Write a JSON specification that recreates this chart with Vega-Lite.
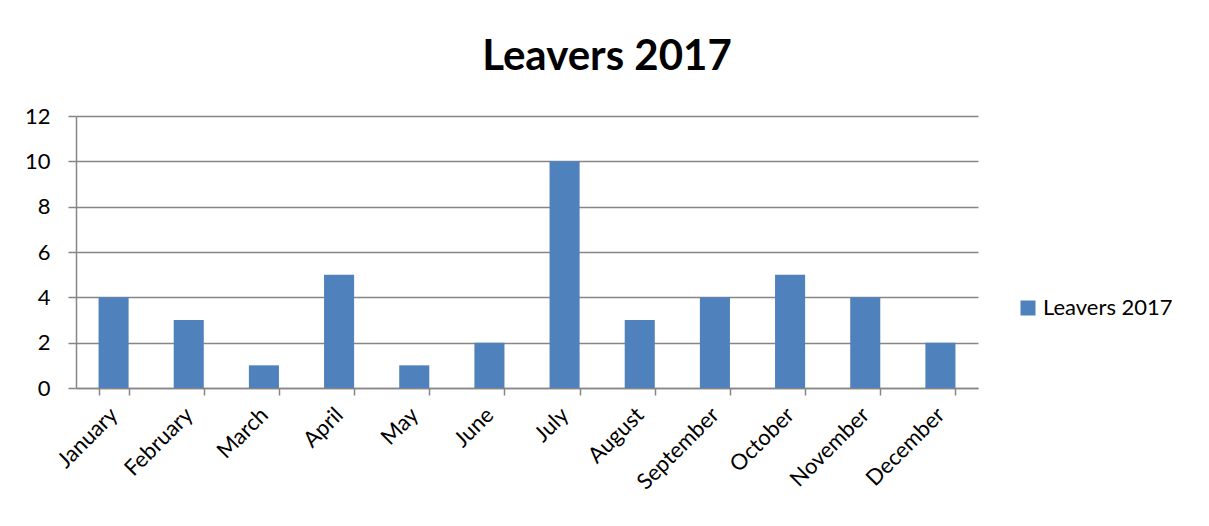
{
  "$schema": "https://vega.github.io/schema/vega-lite/v6.json",
  "width": 902,
  "height": 272,
  "autosize": {"type": "none"},
  "padding": {"left": 76, "top": 116, "right": 231, "bottom": 138},
  "background": "white",
  "title": {
    "text": "Leavers 2017",
    "font": "Lato",
    "fontSize": 42,
    "fontWeight": "bold",
    "color": "#000000",
    "anchor": "middle",
    "dx": 80,
    "offset": 26
  },
  "data": {
    "values": [
      {"month": "January", "leavers": 4, "series": "Leavers 2017"},
      {"month": "February", "leavers": 3, "series": "Leavers 2017"},
      {"month": "March", "leavers": 1, "series": "Leavers 2017"},
      {"month": "April", "leavers": 5, "series": "Leavers 2017"},
      {"month": "May", "leavers": 1, "series": "Leavers 2017"},
      {"month": "June", "leavers": 2, "series": "Leavers 2017"},
      {"month": "July", "leavers": 10, "series": "Leavers 2017"},
      {"month": "August", "leavers": 3, "series": "Leavers 2017"},
      {"month": "September", "leavers": 4, "series": "Leavers 2017"},
      {"month": "October", "leavers": 5, "series": "Leavers 2017"},
      {"month": "November", "leavers": 4, "series": "Leavers 2017"},
      {"month": "December", "leavers": 2, "series": "Leavers 2017"}
    ]
  },
  "mark": {"type": "bar", "color": "#4F81BD"},
  "encoding": {
    "x": {
      "field": "month",
      "type": "nominal",
      "sort": null,
      "scale": {"paddingInner": 0.6, "paddingOuter": 0.3},
      "axis": {
        "title": null,
        "labelAngle": -45,
        "labelAlign": "right",
        "labelBaseline": "middle",
        "labelFont": "Lato",
        "labelFontSize": 22,
        "labelColor": "#000000",
        "labelPadding": 16,
        "tickBand": "extent",
        "tickSize": 7,
        "tickColor": "#868686",
        "domainColor": "#868686",
        "domainWidth": 1.5,
        "tickWidth": 1.5,
        "grid": false
      }
    },
    "y": {
      "field": "leavers",
      "type": "quantitative",
      "scale": {"domain": [0, 12]},
      "axis": {
        "title": null,
        "values": [0, 2, 4, 6, 8, 10, 12],
        "labelFont": "Lato",
        "labelFontSize": 22,
        "labelColor": "#000000",
        "labelPadding": 18,
        "tickSize": 8,
        "tickColor": "#868686",
        "domainColor": "#868686",
        "domainWidth": 1.5,
        "tickWidth": 1.5,
        "gridColor": "#868686",
        "gridWidth": 1.5,
        "gridOpacity": 1
      }
    },
    "fill": {
      "field": "series",
      "type": "nominal",
      "scale": {"range": ["#4F81BD"]},
      "legend": {
        "title": null,
        "orient": "none",
        "legendX": 941,
        "legendY": 181,
        "symbolType": "square",
        "symbolSize": 225,
        "symbolStrokeWidth": 0,
        "labelFont": "Lato",
        "labelFontSize": 22,
        "labelColor": "#000000",
        "labelOffset": 4
      }
    }
  },
  "config": {"view": {"stroke": null}}
}
